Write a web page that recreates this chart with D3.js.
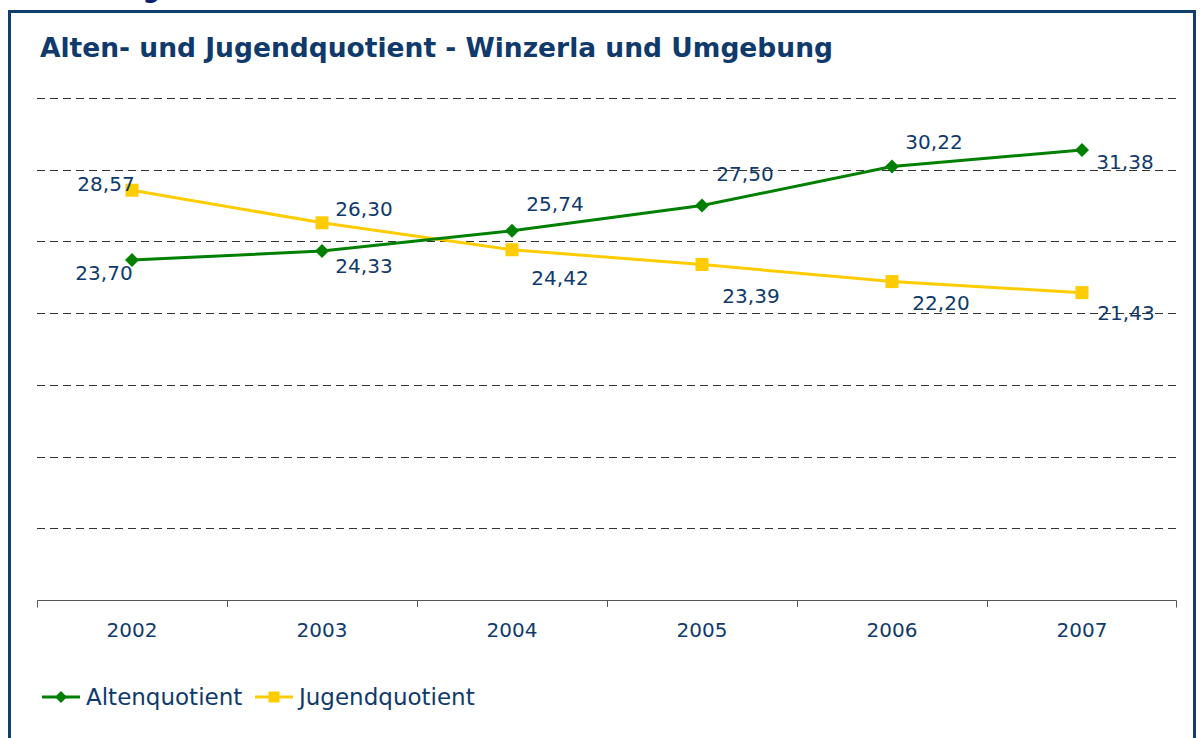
<!DOCTYPE html>
<html>
<head>
<meta charset="utf-8">
<script src="https://cdn.jsdelivr.net/npm/d3@7"></script>
<style>
  body { margin: 0; background: #fff; }
  svg { display: block; font-family: "DejaVu Sans", Verdana, sans-serif; }
</style>
</head>
<body>
<svg id="chart" width="1200" height="738"></svg>
<script>
// data
const years = ["2002", "2003", "2004", "2005", "2006", "2007"];
const altenquotient = [23.70, 24.33, 25.74, 27.50, 30.22, 31.38];
const jugendquotient = [28.57, 26.30, 24.42, 23.39, 22.20, 21.43];
const yTicks = [0, 5, 10, 15, 20, 25, 30, 35];

// label offsets (px from the point to the label centre)
const altenOffsets = [[-28, 13], [42, 15], [43, -27], [43, -32], [42, -25], [43, 12]];
const jugendOffsets = [[-26, -6], [42, -14], [48, 28], [49, 31], [49, 21], [44, 20]];

const navy = "#0f3a6b";
const green = "#008000";
const yellow = "#ffcc00";

const svg = d3.select("#chart");
const fmt = v => d3.format(".2f")(v).replace(".", ",");

// cut off heading above the frame
svg.append("text")
  .attr("x", 160).attr("y", -2)
  .attr("text-anchor", "end")
  .attr("font-weight", "bold").attr("font-size", 24)
  .attr("fill", "#0a1f6e")
  .text("Abbildung");

// frame
svg.append("rect")
  .attr("x", 9.5).attr("y", 11.5)
  .attr("width", 1185).attr("height", 800)
  .attr("fill", "none").attr("stroke", "#123e6e").attr("stroke-width", 3);

svg.append("text")
  .attr("x", 40).attr("y", 57)
  .attr("font-weight", "bold").attr("font-size", 26.5)
  .attr("fill", navy)
  .text("Alten- und Jugendquotient - Winzerla und Umgebung");

const x = d3.scaleBand().domain(years).range([37, 1177]);
const y = d3.scaleLinear().domain([0, 35]).range([600, 98]);
const cx = d => x(d) + x.bandwidth() / 2;

// gridlines
svg.append("g")
  .selectAll("line").data(yTicks.filter(t => t > 0))
  .join("line")
  .attr("x1", 37).attr("x2", 1177)
  .attr("y1", d => Math.round(y(d)) + 0.5).attr("y2", d => Math.round(y(d)) + 0.5)
  .attr("stroke", "#333").attr("stroke-width", 1)
  .attr("stroke-dasharray", "8,5");

// x axis
const xAxis = svg.append("g")
  .attr("transform", "translate(0,600.5)")
  .call(d3.axisBottom(x).tickSize(0).tickPadding(0));
xAxis.select(".domain").attr("stroke", "#555").attr("d", "M37.5,7V0H1176.5V7");
xAxis.selectAll(".tick text")
  .attr("y", 36).attr("dy", 0)
  .attr("font-size", 20).attr("fill", navy)
  .attr("font-family", "DejaVu Sans, Verdana, sans-serif");
svg.append("g")
  .selectAll("line").data(years.slice(1))
  .join("line")
  .attr("x1", d => Math.round(x(d)) + 0.5).attr("x2", d => Math.round(x(d)) + 0.5)
  .attr("y1", 600).attr("y2", 607)
  .attr("stroke", "#555");

const line = d3.line().x((d, i) => cx(years[i])).y(d => y(d));

function drawSeries(values, color, shape, offsets) {
  const g = svg.append("g");
  g.append("path").datum(values)
    .attr("d", line)
    .attr("fill", "none").attr("stroke", color).attr("stroke-width", 3);
  g.selectAll("path.m").data(values).join("path")
    .attr("class", "m")
    .attr("transform", (d, i) => `translate(${cx(years[i])},${y(d)})`)
    .attr("d", shape)
    .attr("fill", color);
  g.selectAll("text").data(values).join("text")
    .attr("x", (d, i) => cx(years[i]) + offsets[i][0])
    .attr("y", (d, i) => y(d) + offsets[i][1])
    .attr("dy", "0.35em")
    .attr("text-anchor", "middle")
    .attr("font-size", 20).attr("fill", navy)
    .text(fmt);
}

const diamond = "M0,-7L7,0L0,7L-7,0Z";
const square = "M-6.5,-6.5H6.5V6.5H-6.5Z";

drawSeries(jugendquotient, yellow, square, jugendOffsets);
drawSeries(altenquotient, green, diamond, altenOffsets);

// legend
const legend = [
  { name: "Altenquotient", color: green, shape: diamond, x: 42 },
  { name: "Jugendquotient", color: yellow, shape: square, x: 255 }
];
const lg = svg.append("g").selectAll("g").data(legend).join("g")
  .attr("transform", d => `translate(${d.x},697)`);
lg.append("line").attr("x1", 0).attr("x2", 38)
  .attr("stroke", d => d.color).attr("stroke-width", 3);
lg.append("path").attr("transform", "translate(19,0) scale(0.85)")
  .attr("d", d => d.shape).attr("fill", d => d.color);
lg.append("text").attr("x", 44).attr("dy", "0.35em")
  .attr("font-size", 23).attr("fill", navy)
  .text(d => d.name);
</script>
</body>
</html>
